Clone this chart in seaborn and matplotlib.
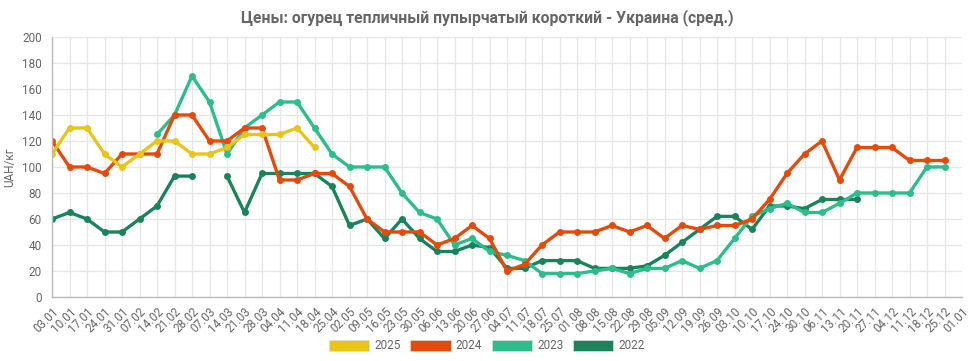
import numpy as np
import pandas as pd
import matplotlib
matplotlib.use("Agg")
import matplotlib.pyplot as plt
from matplotlib.patches import Patch
import seaborn as sns

dates = ["03.01","10.01","17.01","24.01","31.01","07.02","14.02","21.02","28.02","07.03",
         "14.03","21.03","28.03","04.04","11.04","18.04","25.04","02.05","09.05","16.05",
         "23.05","30.05","06.06","13.06","20.06","27.06","04.07","11.07","18.07","25.07",
         "01.08","08.08","15.08","22.08","29.08","05.09","12.09","19.09","26.09","03.10",
         "10.10","17.10","24.10","30.10","06.11","13.11","20.11","27.11","04.12","11.12",
         "18.12","25.12","01.01"]

nan = np.nan
y2025 = [110,130,130,110,100,110,120,120,110,110,115,125,125,125,130,115]
y2024 = [120,100,100,95,110,110,110,140,140,120,120,130,130,90,90,95,95,85,60,50,
         50,50,40,45,55,45,20,25,40,50,50,50,55,50,55,45,55,52,55,55,
         60,75,95,110,120,90,115,115,115,105,105,105]
y2023 = [nan]*6 + [125,140,170,150,110,130,140,150,150,130,110,100,100,100,
         80,65,60,40,45,35,32,28,18,18,18,20,22,18,22,22,28,22,28,45,
         62,68,72,65,65,72,80,80,80,80,100,100]
y2022 = [60,65,60,50,50,60,70,93,93,nan,93,65,95,95,95,95,85,55,60,45,
         60,45,35,35,40,38,22,22,28,28,28,22,22,22,24,32,42,52,62,62,
         52,70,70,68,75,75,75]

series = {"2025": y2025, "2024": y2024, "2023": y2023, "2022": y2022}
colors = {"2025": "#E8C518", "2024": "#E54A0B", "2023": "#2BBE8C", "2022": "#19845C"}

rows = []
for name, vals in series.items():
    seg = 0
    for i, v in enumerate(vals):
        if v is None or (isinstance(v, float) and np.isnan(v)):
            seg += 1
            continue
        rows.append({"idx": i, "value": v, "year": name, "seg": f"{name}_{seg}"})
df = pd.DataFrame(rows)

sns.set_style("white")
plt.rcParams["font.family"] = ["Roboto", "DejaVu Sans"]

fig = plt.figure(figsize=(9.74, 3.61), dpi=100)
ax = fig.add_axes([0.0534, 0.1773, 0.9343, 0.7202])

sns.lineplot(data=df, x="idx", y="value", hue="year", units="seg", estimator=None,
             palette=colors, hue_order=["2025", "2024", "2023", "2022"][::-1],
             marker="o", markersize=5, markeredgewidth=0, linewidth=2.4,
             legend=False, ax=ax, sort=True)

ax.set_xlim(0, len(dates) - 1)
ax.set_ylim(0, 200)
ax.set_xticks(range(len(dates)))
ax.set_xticklabels(dates, rotation=45, ha="right", rotation_mode="anchor")
ax.set_yticks(range(0, 201, 20))
ax.tick_params(axis="both", labelsize=8.5, labelcolor="#666666", color="#dddddd", length=4)
ax.tick_params(axis="x", pad=2)
ax.grid(True, color="#e6e6e6", linewidth=0.9)
ax.set_axisbelow(True)
for s in ["top", "right"]:
    ax.spines[s].set_visible(False)
for s in ["left", "bottom"]:
    ax.spines[s].set_color("#bbbbbb")
    ax.spines[s].set_linewidth(1.0)
ax.set_xlabel("")
ax.set_ylabel("UAH/кг", fontsize=8.5, color="#666666", labelpad=4)

fig.text(0.5, 0.952, "Цены: огурец тепличный пупырчатый короткий - Украина (сред.)",
         ha="center", va="center", fontsize=11.3, fontweight="bold", color="#666666")

handles = [Patch(facecolor=colors[k], edgecolor="#dddddd", linewidth=0.5, label=k)
           for k in ["2025", "2024", "2023", "2022"]]
fig.legend(handles=handles, loc="center", bbox_to_anchor=(0.5, 0.042), ncol=4,
           frameon=False, fontsize=8.5, handlelength=3.4, handleheight=1.1,
           handletextpad=0.45, columnspacing=0.8, labelcolor="#666666")

fig.savefig("out.png", dpi=100)
